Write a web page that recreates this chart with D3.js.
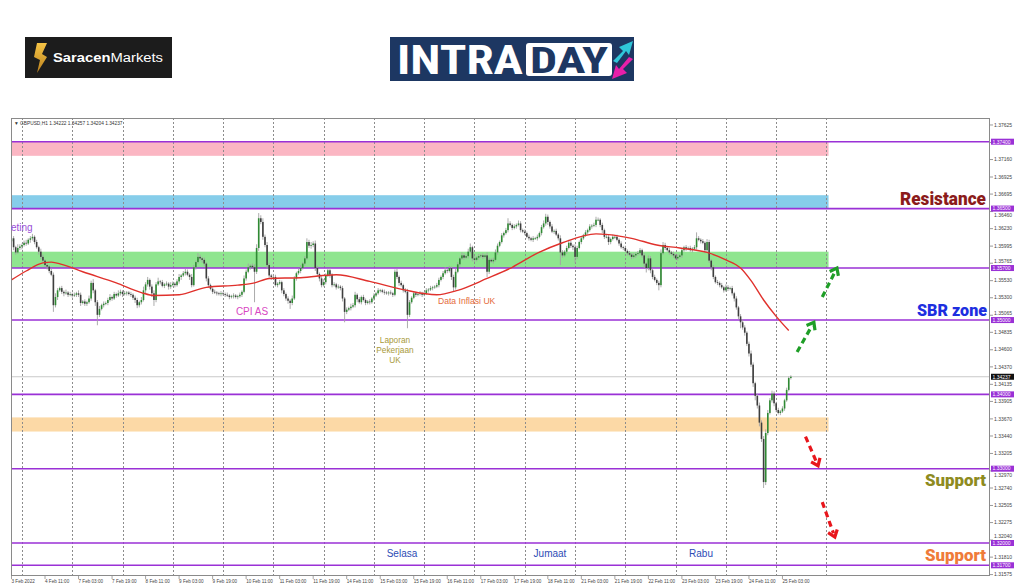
<!DOCTYPE html>
<html><head><meta charset="utf-8">
<script src="https://cdn.jsdelivr.net/npm/d3@7"></script>
<style>body{margin:0;background:#fff;} svg{display:block;font-family:"Liberation Sans",Arial,sans-serif;}</style>
</head><body><svg id="c" width="1024" height="587"></svg>
<script>
// ---------------- DATA ----------------
const BASE = 1.3;              // price = BASE + pips / 10000
const symbolName = "GBPUSD,H1";
const lastOHLC = ["1.34222", "1.34257", "1.34204", "1.34237"];
const firstOpen = 606;
// hourly closes (pips above 1.3000), 3 Feb 19:00 .. 25 Feb 07:00
const closes = [
610,598,591,597,599,601,604,603,608,610,612,605,
598,592,585,580,574,572,566,561,520,531,540,543,
538,536,537,534,535,533,534,536,534,523,525,522,
524,529,550,540,524,507,515,520,522,523,527,531,
529,535,533,536,538,535,536,537,535,534,530,527,
520,524,527,540,548,554,545,536,527,548,552,551,
546,548,549,545,547,549,547,552,558,560,563,565,
561,558,547,571,578,585,583,581,576,556,547,542,
538,537,536,535,536,535,534,533,531,532,533,531,
532,534,538,556,565,571,573,571,565,597,637,632,
612,601,574,560,558,558,547,549,551,540,535,529,
526,523,529,556,563,566,570,576,583,605,600,601,
603,570,562,556,547,551,560,567,561,547,548,544,
545,543,529,511,514,516,518,520,534,528,524,531,
527,523,525,524,529,533,536,540,540,538,537,536,
537,536,534,565,558,550,547,540,538,507,524,530,
536,534,535,536,534,536,540,541,543,544,545,547,
554,558,563,567,566,570,558,544,565,575,583,587,
584,586,592,598,583,581,584,586,587,585,587,565,
581,579,581,591,600,605,614,617,621,630,628,624,
626,628,630,621,619,617,612,610,608,610,610,612,
617,625,630,639,632,626,619,620,615,610,591,587,
592,597,604,600,598,585,597,605,610,614,618,621,
626,627,628,635,635,628,621,612,612,605,609,612,
612,608,603,598,597,593,590,588,585,587,589,590,
594,587,576,570,583,567,558,554,550,547,590,601,
597,594,591,589,587,583,585,587,594,598,596,597,
594,596,598,610,608,606,604,594,605,580,571,558,
551,550,547,544,540,544,542,543,536,529,517,505,
497,490,483,468,455,440,415,398,385,362,340,282,
348,375,392,401,388,379,375,377,381,392,406,422,
423.7];
// upper / lower wick lengths (pips)
const wickUp = [
4,3,2,5,3,2,3,4,2,3,4,2, 3,2,4,3,2,3,2,4,3,5,3,2, 3,2,4,2,3,2,3,2,4,3,2,3,
2,4,3,5,2,3,4,2,3,2,3,4, 2,3,2,4,3,2,3,2,2,3,2,3, 3,2,4,5,3,4,2,3,4,3,5,2,
3,2,3,2,4,3,2,3,4,2,3,4, 3,2,4,3,2,5,3,2,3,2,3,2, 2,3,2,2,3,2,2,3,2,2,3,2,
2,3,2,4,3,5,2,3,4,5,7,4, 5,3,4,3,2,4,3,2,3,2,3,2, 3,2,4,3,2,3,4,2,3,5,3,4,
3,4,3,2,3,4,3,2,3,2,3,2, 3,2,3,2,3,2,4,3,4,2,3,2, 3,2,2,3,2,3,2,3,2,2,3,2,
2,3,2,3,4,2,3,2,3,4,3,2, 3,2,2,3,2,2,3,2,3,2,2,3, 3,2,3,4,2,3,2,3,4,3,2,4,
3,2,4,5,2,3,2,3,2,3,2,4, 3,2,3,4,3,2,3,2,3,7,3,2, 3,2,4,3,2,3,2,3,2,3,2,3,
2,3,4,4,3,2,3,2,3,2,4,3, 2,3,4,3,2,4,3,2,3,2,3,2, 3,2,3,4,3,2,3,2,4,3,2,3,
2,3,2,3,2,3,2,3,2,3,2,3, 3,2,3,2,4,3,2,3,2,3,5,4, 3,2,3,2,3,2,3,2,3,2,3,2,
3,2,3,8,3,2,3,2,4,3,2,3, 2,3,2,3,2,4,3,2,3,2,3,2, 3,4,3,2,3,4,3,2,3,4,3,4,
5,4,3,4,3,2,3,2,3,2,3,2, 2];
const wickDown = [
3,4,3,2,3,4,2,3,2,4,3,3, 2,4,3,2,3,4,3,2,9,3,4,2, 3,4,2,3,2,3,2,3,3,4,2,3,
3,2,3,4,5,14,3,2,3,2,3,2, 3,2,3,2,3,4,2,3,2,3,3,4, 4,3,3,2,4,3,4,5,8,3,2,3,
2,3,2,4,3,2,3,2,3,4,2,3, 2,4,3,2,3,2,3,4,3,4,3,2, 3,2,3,2,3,2,3,2,3,2,3,2,
3,2,3,2,3,2,3,2,41,3,4,3, 4,3,5,3,4,3,2,3,2,4,3,3, 4,8,3,2,3,2,3,2,3,2,3,4,
3,4,3,4,3,2,3,2,4,3,2,3, 2,3,4,14,3,2,3,2,3,4,2,3, 2,3,2,3,2,3,2,2,3,2,3,2,
3,2,3,2,3,4,2,3,2,18,3,2, 2,3,2,2,3,2,2,3,2,3,2,2, 3,2,3,2,3,2,4,5,3,2,3,2,
3,2,3,2,4,3,2,3,2,3,2,7, 3,2,3,2,3,2,2,3,2,3,2,3, 2,3,2,3,2,3,2,3,2,3,2,3,
2,3,2,3,4,3,2,3,2,3,17,3, 2,3,2,3,4,8,3,2,3,2,2,3, 2,3,2,3,2,3,4,3,2,4,3,2,
3,2,3,2,3,2,3,2,3,2,3,2, 2,3,6,6,3,4,3,2,3,7,3,2, 3,2,3,2,3,2,3,2,3,2,3,2,
2,3,2,3,2,3,2,4,3,3,4,3, 2,3,3,2,3,2,3,2,3,4,3,4, 8,3,4,3,4,3,5,6,4,5,4,8,
4,3,2,3,4,3,2,3,2,3,2,2, 2];
// moving average: [bar index, pips]
const maPoints = [[0,554],[7,566],[15,577],[19,578],[24,575],[34,565],[50,550],[62,537],[68,533],
[80,534],[93,544],[108,547],[116,550],[123,556],[138,557],[155,561],[171,552],[187,541],[203,534],
[213,540],[227,556],[239,571],[251,590],[263,604],[279,616],[285,615],[296,610],[308,601],[319,597],
[332,591],[341,581],[348,570],[353,553],[359,527],[365,505],[371,486]];
const timeLabels = ["3 Feb 2022","4 Feb 11:00","7 Feb 03:00","7 Feb 19:00","8 Feb 11:00","9 Feb 03:00",
"9 Feb 19:00","10 Feb 11:00","11 Feb 03:00","11 Feb 19:00","14 Feb 11:00","15 Feb 03:00","15 Feb 19:00",
"16 Feb 11:00","17 Feb 03:00","17 Feb 19:00","18 Feb 11:00","21 Feb 03:00","21 Feb 19:00","22 Feb 11:00",
"23 Feb 03:00","23 Feb 19:00","24 Feb 11:00","25 Feb 03:00"];
const priceTicks = [1.37625,1.37390,1.37160,1.36925,1.36695,1.36460,1.36230,1.35995,1.35765,1.35530,
1.35300,1.35065,1.34835,1.34600,1.34370,1.34135,1.33905,1.33670,1.33440,1.33205,1.32970,1.32740,
1.32505,1.32275,1.32040,1.31810,1.31575];
const levels = [1.3740,1.3650,1.3570,1.3500,1.3400,1.3300,1.3200,1.3170];
const bandLows  = [1.3721,1.3650,1.3570,1.3350];
const bandHighs = [1.3740,1.3668,1.3592,1.3369];
const currentPrice = 1.34237;
const upArrows   = [[375,1.3457,383,1.3497],[387,1.3531,394,1.3570]];
const downArrows = [[379,1.3343,385,1.3304],[387,1.3255,393,1.3208]];

// ---------------- DRAW ----------------
const svg = d3.select("#c");
const L = 11, R = 990, T = 118, B = 576;
const x = d3.scaleLinear().domain([0, 467]).range([11.5, 11.5 + 467 * 2.095]);
const y = d3.scaleLinear().domain([1.317, 1.374]).range([565.3, 141.7]);
const P = v => BASE + v / 10000;

// logos
const defs = svg.append("defs");
const g1 = defs.append("linearGradient").attr("id","gold").attr("x1",0).attr("y1",0).attr("x2",0).attr("y2",1);
g1.append("stop").attr("offset","0%").attr("stop-color","#f6c445");
g1.append("stop").attr("offset","100%").attr("stop-color","#b9801e");
defs.append("clipPath").attr("id","plot").append("rect").attr("x",L).attr("y",T).attr("width",R-L).attr("height",B-T);

svg.append("rect").attr("x",25).attr("y",37).attr("width",147).attr("height",41).attr("fill","#1c1c1c");
svg.append("path").attr("d","M37,43 L47,43 L42,54 L47,57 L37,73 L40,60 L34,57 Z").attr("fill","url(#gold)");
const st = svg.append("text").attr("x",53).attr("y",62).attr("fill","#fff").attr("font-size",12.5)
  .attr("textLength",110).attr("lengthAdjust","spacingAndGlyphs");
st.append("tspan").attr("font-weight","bold").text("Saracen");
st.append("tspan").text("Markets");

svg.append("rect").attr("x",390).attr("y",37).attr("width",244).attr("height",44).attr("fill","#1d3762");
svg.append("text").attr("x",397).attr("y",74).attr("fill","#fff").attr("font-size",41).attr("font-weight","bold")
  .attr("font-family","'Liberation Sans Narrow','Roboto Condensed','Liberation Sans',sans-serif")
  .attr("textLength",126).attr("lengthAdjust","spacingAndGlyphs").text("INTRA");
svg.append("rect").attr("x",526).attr("y",43).attr("width",86).attr("height",33).attr("rx",3).attr("fill","#fff");
svg.append("text").attr("x",530).attr("y",73).attr("fill","#1d3762").attr("font-size",37).attr("font-weight","bold")
  .attr("font-family","'Liberation Sans Narrow','Roboto Condensed','Liberation Sans',sans-serif")
  .attr("textLength",78).attr("lengthAdjust","spacingAndGlyphs").text("DAY");
svg.append("path").attr("d","M613,61 L623,51 L619,47 L633,41 L629,55 L626,51 L617,63 Z").attr("fill","#2fc6d8");
svg.append("path").attr("d","M633,59 L623,69 L627,73 L612,79 L616,65 L619,69 L629,57 Z").attr("fill","#e81fa9");

// chart frame
svg.append("rect").attr("x",L).attr("y",T).attr("width",R-L).attr("height",B-T).attr("fill","#fff");
const plot = svg.append("g").attr("clip-path","url(#plot)");

// bands
plot.selectAll("rect.band").data(bandLows).join("rect").attr("class","band")
  .attr("x",L).attr("width",x(390)-L)
  .attr("y",(d,i)=>y(bandHighs[i])).attr("height",(d,i)=>y(d)-y(bandHighs[i]))
  .attr("fill",(d,i)=>["#fbb6c3","#86cdea","#8fe58f","#fcd9a6"][i]);

// day separators (dotted)
plot.selectAll("line.grid").data(d3.range(5, 390, 24)).join("line").attr("class","grid")
  .attr("x1",d=>Math.round(x(d))+0.5).attr("x2",d=>Math.round(x(d))+0.5).attr("y1",T).attr("y2",B)
  .attr("stroke","#8c8c8c").attr("stroke-width",1).attr("stroke-dasharray","2,2");

// current price line
plot.append("line").attr("x1",L).attr("x2",R).attr("y1",y(currentPrice)).attr("y2",y(currentPrice))
  .attr("stroke","#c9c9c9").attr("stroke-width",1);

// level lines
plot.selectAll("line.lvl").data(levels).join("line").attr("class","lvl")
  .attr("x1",L).attr("x2",R).attr("y1",d=>y(d)).attr("y2",d=>y(d))
  .attr("stroke","#9a31d6").attr("stroke-width",1.6);

// candles
const bars = closes.map((c,i)=>{
  const o = i===0 ? firstOpen : closes[i-1];
  return {i, o:P(o), c:P(c), h:P(Math.max(o,c)+wickUp[i]), l:P(Math.min(o,c)-wickDown[i])};
});
const cg = plot.append("g");
cg.selectAll("line").data(bars).join("line")
  .attr("x1",d=>x(d.i)).attr("x2",d=>x(d.i)).attr("y1",d=>y(d.h)).attr("y2",d=>y(d.l))
  .attr("stroke","#a3a3a3").attr("stroke-width",0.9);
cg.selectAll("rect").data(bars).join("rect")
  .attr("x",d=>x(d.i)-0.8).attr("width",1.6)
  .attr("y",d=>y(Math.max(d.o,d.c))).attr("height",d=>Math.max(0.8,Math.abs(y(d.o)-y(d.c))))
  .attr("fill",d=>d.c>=d.o?"#2f8a33":"#3e3e3e");

// moving average
plot.append("path").datum(maPoints)
  .attr("d",d3.line().x(d=>x(d[0])).y(d=>y(P(d[1]))).curve(d3.curveMonotoneX))
  .attr("fill","none").attr("stroke","#e0312c").attr("stroke-width",1.4);

// arrows
function arrow(a, color){
  const x1=x(a[0]), y1=y(a[1]), x2=x(a[2]), y2=y(a[3]);
  const ang=Math.atan2(y2-y1,x2-x1), len=Math.hypot(x2-x1,y2-y1);
  const ex=x1+Math.cos(ang)*(len-4), ey=y1+Math.sin(ang)*(len-4);
  svg.append("line").attr("x1",x1).attr("y1",y1).attr("x2",ex).attr("y2",ey)
    .attr("stroke",color).attr("stroke-width",3.2).attr("stroke-dasharray","6,4");
  const h=8, sp=0.65;
  const p1=[x2-h*Math.cos(ang-sp), y2-h*Math.sin(ang-sp)], p2=[x2-h*Math.cos(ang+sp), y2-h*Math.sin(ang+sp)];
  svg.append("path").attr("d",`M${p1}L${x2},${y2}L${p2}`).attr("fill","none")
    .attr("stroke",color).attr("stroke-width",3.2).attr("stroke-linejoin","miter");
}
upArrows.forEach(a=>arrow(a,"#1f9e27"));
downArrows.forEach(a=>arrow(a,"#e8161c"));

// frame border
svg.append("rect").attr("x",L+0.5).attr("y",T+0.5).attr("width",R-L-1).attr("height",B-T-1)
  .attr("fill","none").attr("stroke","#8a8a8a").attr("stroke-width",1);

// header
svg.append("text").attr("x",14).attr("y",125).attr("font-size",4.8).attr("fill","#333")
  .text("▼ " + symbolName + "  " + lastOHLC.join(" "));

// right axis ticks & labels (labels next to a level box are nudged clear of it, or hidden when covered)
const boxYs = levels.map(v=>y(v)).concat([y(currentPrice)]);
function tickLabelY(d){
  let yy = y(d);
  for (const by of boxYs){
    const dy = yy - by;
    if (Math.abs(dy) < 2) return null;
    if (Math.abs(dy) < 6.8) yy = by + (dy >= 0 ? 6.8 : -6.8);
  }
  return yy;
}
const ax = svg.append("g");
ax.selectAll("line").data(priceTicks).join("line").attr("x1",R).attr("x2",R+3)
  .attr("y1",d=>y(d)).attr("y2",d=>y(d)).attr("stroke","#555").attr("stroke-width",0.6);
ax.selectAll("text").data(priceTicks.filter(d=>tickLabelY(d)!==null)).join("text")
  .attr("x",R+4).attr("y",d=>tickLabelY(d)+1.7)
  .attr("font-size",5).attr("fill","#444").text(d=>d.toFixed(5));
const lb = svg.append("g");
levels.forEach(v=>{
  lb.append("rect").attr("x",R+1).attr("y",y(v)-3).attr("width",23).attr("height",6).attr("fill","#9a31d6");
  lb.append("text").attr("x",R+2.5).attr("y",y(v)+1.8).attr("font-size",5).attr("fill","#fff").text(v.toFixed(5));
});
lb.append("rect").attr("x",R+1).attr("y",y(currentPrice)-3).attr("width",23).attr("height",6).attr("fill","#111");
lb.append("text").attr("x",R+2.5).attr("y",y(currentPrice)+1.8).attr("font-size",5).attr("fill","#fff").text(currentPrice.toFixed(5));

// time axis
const tg = svg.append("g");
tg.selectAll("text").data(timeLabels).join("text").attr("x",(d,i)=>x(i*16)).attr("y",583)
  .attr("font-size",4.6).attr("fill","#444").text(d=>d);
tg.selectAll("line").data(timeLabels).join("line").attr("x1",(d,i)=>x(i*16)).attr("x2",(d,i)=>x(i*16))
  .attr("y1",B).attr("y2",B+3).attr("stroke","#666").attr("stroke-width",0.6);

// annotations
function txt(s,xp,yp,size,color,anchor,weight,len){
  const t=svg.append("text").attr("x",xp).attr("y",yp).attr("font-size",size).attr("fill",color)
    .attr("text-anchor",anchor||"start").attr("font-weight",weight||"normal").text(s);
  if(len) t.attr("textLength",len).attr("lengthAdjust","spacingAndGlyphs");
  return t;
}
txt("eting",11,231,10,"#9b4fd6");
txt("CPI AS",252,315,10,"#d846c2","middle");
txt("Data Inflasi UK",438,304,8.6,"#e56b3c");
txt("Laporan",395,343,8.3,"#a89a3a","middle");
txt("Pekerjaan",395,353,8.3,"#a89a3a","middle");
txt("UK",395,363,8.3,"#a89a3a","middle");
txt("Selasa",402,557,10,"#2d4cb5","middle");
txt("Jumaat",550,557,10,"#2d4cb5","middle");
txt("Rabu",701,557,10,"#2d4cb5","middle");
const big = "'Roboto','Liberation Sans',sans-serif";
txt("Resistance",900,205,18,"#8b1b1b","start","900",86).attr("font-family",big);
txt("SBR zone",917,316,16,"#1d2fe0","start","900",70).attr("font-family",big);
txt("Support",925,486,17,"#8e8b1f","start","900",61).attr("font-family",big);
txt("Support",925,561,17,"#ef7b3a","start","900",61).attr("font-family",big);
</script></body></html>
